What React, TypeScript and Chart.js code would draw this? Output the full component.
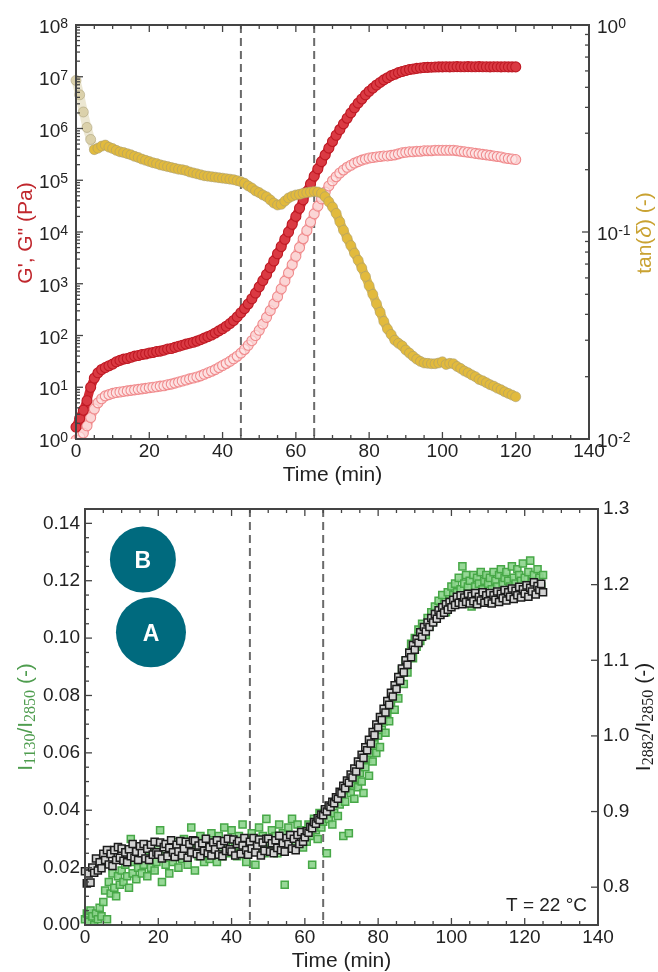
import { useEffect, useRef } from 'react';
import { Chart, registerables } from 'chart.js';

Chart.register(...registerables);

const SANS = '"Liberation Sans", Arial, Helvetica, sans-serif';
const SERIF = '"Liberation Serif", "Times New Roman", serif';
const AXIS_COLOR = '#444444';
const TEXT_COLOR = '#222222';

// ---------------- Rheology (top panel) ----------------
const rheoTime = [
  0, 1, 2, 3, 4, 5, 6, 7, 8, 9,
  10, 11, 12, 13, 14, 15, 16, 17, 18, 19,
  20, 21, 22, 23, 24, 25, 26, 27, 28, 29,
  30, 31, 32, 33, 34, 35, 36, 37, 38, 39,
  40, 41, 42, 43, 44, 45, 46, 47, 48, 49,
  50, 51, 52, 53, 54, 55, 56, 57, 58, 59,
  60, 61, 62, 63, 64, 65, 66, 67, 68, 69,
  70, 71, 72, 73, 74, 75, 76, 77, 78, 79,
  80, 81, 82, 83, 84, 85, 86, 87, 88, 89,
  90, 91, 92, 93, 94, 95, 96, 97, 98, 99,
  100, 101, 102, 103, 104, 105, 106, 107, 108, 109,
  110, 111, 112, 113, 114, 115, 116, 117, 118, 119,
  120,
];

// G' (Pa)
const storageModulus = [
  1.7, 2.5, 3.6, 5.5, 10, 15, 19, 22, 24, 26,
  28, 31, 33, 35, 36, 38, 40, 41, 43, 44,
  46, 47, 49, 50, 52, 55, 56, 59, 62, 65,
  68, 71, 74, 78, 83, 89, 95, 102, 112, 123,
  135, 151, 170, 195, 229, 275, 331, 407, 513, 661,
  871, 1150, 1510, 2040, 2750, 3800, 5250, 7240, 1.0e4, 1.41e4,
  2.0e4, 2.88e4, 4.17e4, 6.03e4, 8.51e4, 1.2e5, 1.66e5, 2.29e5, 3.09e5, 4.17e5,
  5.62e5, 7.41e5, 9.55e5, 1.23e6, 1.58e6, 2.0e6, 2.51e6, 3.09e6, 3.72e6, 4.47e6,
  5.25e6, 6.03e6, 6.92e6, 7.76e6, 8.71e6, 9.55e6, 1.05e7, 1.12e7, 1.2e7, 1.26e7,
  1.32e7, 1.38e7, 1.41e7, 1.45e7, 1.48e7, 1.51e7, 1.52e7, 1.53e7, 1.54e7, 1.55e7,
  1.55e7, 1.56e7, 1.55e7, 1.56e7, 1.57e7, 1.56e7, 1.56e7, 1.57e7, 1.56e7, 1.56e7,
  1.57e7, 1.56e7, 1.56e7, 1.55e7, 1.56e7, 1.56e7, 1.55e7, 1.56e7, 1.55e7, 1.55e7,
  1.55e7,
];

// G'' (Pa)
const lossModulus = [
  0.95, 1.1, 1.3, 1.8, 2.6, 3.8, 5.0, 6.0, 6.8, 7.2,
  7.6, 7.9, 8.1, 8.3, 8.5, 8.7, 8.9, 9.1, 9.3, 9.5,
  9.8, 10, 10.2, 10.5, 10.7, 11.2, 11.5, 12, 12.6, 13.2,
  13.8, 14.5, 15.1, 15.8, 16.6, 17.8, 19, 20.4, 21.9, 24,
  26.3, 28.8, 31.6, 35.5, 39.8, 45.7, 53.7, 64.6, 79.4, 100,
  126, 166, 224, 302, 407, 562, 794, 1122, 1622, 2344,
  3388, 5012, 7413, 1.07e4, 1.55e4, 2.24e4, 3.16e4, 4.37e4, 5.89e4, 7.76e4,
  9.77e4, 1.17e5, 1.38e5, 1.58e5, 1.78e5, 1.95e5, 2.14e5, 2.29e5, 2.45e5, 2.57e5,
  2.69e5, 2.75e5, 2.82e5, 2.88e5, 2.95e5, 2.95e5, 3.02e5, 3.09e5, 3.24e5, 3.39e5,
  3.47e5, 3.55e5, 3.55e5, 3.63e5, 3.63e5, 3.72e5, 3.72e5, 3.72e5, 3.8e5, 3.8e5,
  3.8e5, 3.8e5, 3.8e5, 3.8e5, 3.72e5, 3.63e5, 3.55e5, 3.47e5, 3.39e5, 3.31e5,
  3.24e5, 3.16e5, 3.09e5, 3.02e5, 2.95e5, 2.88e5, 2.82e5, 2.69e5, 2.63e5, 2.57e5,
  2.51e5,
];

// tan(delta) (-)
const tanDelta = [
  0.54, 0.46, 0.38, 0.32, 0.28, 0.25, 0.254, 0.26, 0.263, 0.257,
  0.253, 0.248, 0.244, 0.242, 0.239, 0.236, 0.232, 0.229, 0.225, 0.222,
  0.219, 0.216, 0.214, 0.211, 0.209, 0.207, 0.205, 0.203, 0.201, 0.2,
  0.198, 0.195, 0.193, 0.191, 0.189, 0.187, 0.186, 0.185, 0.184, 0.183,
  0.182, 0.181, 0.18, 0.179, 0.177, 0.175, 0.172, 0.167, 0.163, 0.158,
  0.155, 0.151, 0.148, 0.143, 0.138, 0.135, 0.136, 0.141, 0.146, 0.149,
  0.151, 0.152, 0.154, 0.155, 0.156, 0.157, 0.156, 0.154, 0.148, 0.14,
  0.132, 0.123, 0.112, 0.102, 0.093, 0.086, 0.079, 0.073, 0.067, 0.061,
  0.055, 0.05, 0.045, 0.041, 0.037, 0.034, 0.032, 0.03, 0.029, 0.0282,
  0.0269, 0.026, 0.0251, 0.0243, 0.0237, 0.0233, 0.0232, 0.0231, 0.0231, 0.0233,
  0.0236, 0.0229, 0.0232, 0.0231, 0.0224, 0.0219, 0.0213, 0.0209, 0.0204, 0.02,
  0.0194, 0.0191, 0.0187, 0.0183, 0.018, 0.0176, 0.0173, 0.0169, 0.0166, 0.0163,
  0.016,
];

// ---------------- Raman ratios (bottom panel) ----------------
const ramanTime = [
  0, 0.5, 1, 1.5, 2, 2.5, 3, 3.5, 4, 4.5,
  5, 5.5, 6, 6.5, 7, 7.5, 8, 8.5, 9, 9.5,
  10, 10.5, 11, 11.5, 12, 12.5, 13, 13.5, 14, 14.5,
  15, 15.5, 16, 16.5, 17, 17.5, 18, 18.5, 19, 19.5,
  20, 20.5, 21, 21.5, 22, 22.5, 23, 23.5, 24, 24.5,
  25, 25.5, 26, 26.5, 27, 27.5, 28, 28.5, 29, 29.5,
  30, 30.5, 31, 31.5, 32, 32.5, 33, 33.5, 34, 34.5,
  35, 35.5, 36, 36.5, 37, 37.5, 38, 38.5, 39, 39.5,
  40, 40.5, 41, 41.5, 42, 42.5, 43, 43.5, 44, 44.5,
  45, 45.5, 46, 46.5, 47, 47.5, 48, 48.5, 49, 49.5,
  50, 50.5, 51, 51.5, 52, 52.5, 53, 53.5, 54, 54.5,
  55, 55.5, 56, 56.5, 57, 57.5, 58, 58.5, 59, 59.5,
  60, 60.5, 61, 61.5, 62, 62.5, 63, 63.5, 64, 64.5,
  65, 65.5, 66, 66.5, 67, 67.5, 68, 68.5, 69, 69.5,
  70, 70.5, 71, 71.5, 72, 72.5, 73, 73.5, 74, 74.5,
  75, 75.5, 76, 76.5, 77, 77.5, 78, 78.5, 79, 79.5,
  80, 80.5, 81, 81.5, 82, 82.5, 83, 83.5, 84, 84.5,
  85, 85.5, 86, 86.5, 87, 87.5, 88, 88.5, 89, 89.5,
  90, 90.5, 91, 91.5, 92, 92.5, 93, 93.5, 94, 94.5,
  95, 95.5, 96, 96.5, 97, 97.5, 98, 98.5, 99, 99.5,
  100, 100.5, 101, 101.5, 102, 102.5, 103, 103.5, 104, 104.5,
  105, 105.5, 106, 106.5, 107, 107.5, 108, 108.5, 109, 109.5,
  110, 110.5, 111, 111.5, 112, 112.5, 113, 113.5, 114, 114.5,
  115, 115.5, 116, 116.5, 117, 117.5, 118, 118.5, 119, 119.5,
  120, 120.5, 121, 121.5, 122, 122.5, 123, 123.5, 124, 124.5,
  125,
];

// I1130 / I2850 (left axis, green)
const ratio1130 = [
  0.002, 0.004, 0.001, 0.005, 0.003, 0.000, 0.004, 0.002, 0.006, 0.003,
  0.008, 0.012, 0.002, 0.015, 0.011, 0.018, 0.013, 0.010, 0.017, 0.014,
  0.019, 0.015, 0.021, 0.017, 0.013, 0.030, 0.018, 0.022, 0.016, 0.020,
  0.024, 0.018, 0.021, 0.026, 0.017, 0.023, 0.020, 0.025, 0.019, 0.022,
  0.027, 0.033, 0.015, 0.024, 0.021, 0.028, 0.018, 0.025, 0.022, 0.029,
  0.024, 0.020, 0.027, 0.023, 0.030, 0.025, 0.021, 0.028, 0.034, 0.026,
  0.019, 0.029, 0.024, 0.031, 0.026, 0.022, 0.030, 0.027, 0.023, 0.032,
  0.025, 0.029, 0.022, 0.031, 0.027, 0.024, 0.034, 0.028, 0.025, 0.030,
  0.033, 0.026, 0.029, 0.024, 0.031, 0.027, 0.035, 0.028, 0.022, 0.030,
  0.026, 0.032, 0.028, 0.021, 0.030, 0.034, 0.027, 0.031, 0.025, 0.037,
  0.029, 0.026, 0.033, 0.028, 0.031, 0.025, 0.035, 0.029, 0.032, 0.014,
  0.030, 0.034, 0.027, 0.037, 0.031, 0.028, 0.035, 0.030, 0.033, 0.027,
  0.032, 0.029, 0.035, 0.031, 0.021, 0.037, 0.033, 0.030, 0.039, 0.034,
  0.036, 0.040, 0.025, 0.037, 0.041, 0.035, 0.039, 0.043, 0.038, 0.042,
  0.045, 0.031, 0.043, 0.047, 0.032, 0.046, 0.049, 0.044, 0.051, 0.048,
  0.053, 0.050, 0.046, 0.055, 0.058, 0.052, 0.060, 0.057, 0.063, 0.060,
  0.066, 0.062, 0.068, 0.071, 0.067, 0.074, 0.071, 0.077, 0.080, 0.075,
  0.083, 0.079, 0.086, 0.089, 0.084, 0.092, 0.088, 0.095, 0.098, 0.093,
  0.100, 0.097, 0.103, 0.099, 0.105, 0.102, 0.101, 0.107, 0.104, 0.109,
  0.106, 0.111, 0.108, 0.113, 0.110, 0.115, 0.112, 0.109, 0.116, 0.113,
  0.118, 0.115, 0.119, 0.116, 0.121, 0.117, 0.125, 0.119, 0.122, 0.118,
  0.120, 0.111, 0.122, 0.118, 0.121, 0.119, 0.123, 0.117, 0.120, 0.122,
  0.119, 0.121, 0.117, 0.123, 0.120, 0.118, 0.122, 0.124, 0.119, 0.121,
  0.123, 0.120, 0.118, 0.125, 0.121, 0.119, 0.124, 0.122, 0.120, 0.126,
  0.121, 0.118, 0.123, 0.127, 0.120, 0.122, 0.119, 0.124, 0.121, 0.118,
  0.122,
];

// I2882 / I2850 (right axis, black)
const ratio2882 = [
  0.821, 0.805, 0.818, 0.806, 0.826, 0.819, 0.838, 0.822, 0.833, 0.825,
  0.844, 0.836, 0.849, 0.830, 0.844, 0.828, 0.849, 0.836, 0.853, 0.839,
  0.851, 0.835, 0.846, 0.833, 0.850, 0.841, 0.857, 0.839, 0.847, 0.836,
  0.854, 0.845, 0.857, 0.838, 0.851, 0.836, 0.856, 0.843, 0.860, 0.846,
  0.843, 0.859, 0.838, 0.853, 0.857, 0.841, 0.852, 0.862, 0.846, 0.840,
  0.856, 0.847, 0.861, 0.842, 0.851, 0.860, 0.839, 0.857, 0.846, 0.862,
  0.861, 0.844, 0.855, 0.841, 0.858, 0.848, 0.864, 0.845, 0.853, 0.842,
  0.859, 0.850, 0.862, 0.843, 0.856, 0.841, 0.861, 0.848, 0.864, 0.850,
  0.847, 0.863, 0.842, 0.857, 0.861, 0.844, 0.855, 0.865, 0.849, 0.843,
  0.860, 0.851, 0.865, 0.846, 0.855, 0.863, 0.842, 0.859, 0.848, 0.864,
  0.864, 0.847, 0.858, 0.845, 0.862, 0.852, 0.868, 0.849, 0.858, 0.847,
  0.865, 0.857, 0.869, 0.851, 0.864, 0.849, 0.869, 0.857, 0.873, 0.860,
  0.866, 0.874, 0.872, 0.880, 0.878, 0.886, 0.884, 0.891, 0.889, 0.896,
  0.895, 0.903, 0.900, 0.908, 0.906, 0.913, 0.911, 0.919, 0.917, 0.926,
  0.924, 0.934, 0.931, 0.941, 0.938, 0.949, 0.945, 0.957, 0.953, 0.966,
  0.962, 0.975, 0.971, 0.985, 0.981, 0.995, 0.990, 1.005, 1.001, 1.015,
  1.011, 1.025, 1.021, 1.036, 1.031, 1.046, 1.041, 1.057, 1.052, 1.067,
  1.062, 1.078, 1.073, 1.089, 1.084, 1.100, 1.094, 1.110, 1.104, 1.120,
  1.114, 1.128, 1.123, 1.137, 1.131, 1.144, 1.138, 1.150, 1.144, 1.156,
  1.150, 1.161, 1.155, 1.166, 1.160, 1.170, 1.163, 1.174, 1.167, 1.177,
  1.170, 1.180, 1.173, 1.184, 1.176, 1.186, 1.174, 1.183, 1.177, 1.188,
  1.175, 1.185, 1.178, 1.189, 1.174, 1.184, 1.179, 1.190, 1.176, 1.186,
  1.178, 1.189, 1.175, 1.186, 1.180, 1.191, 1.177, 1.188, 1.182, 1.193,
  1.179, 1.190, 1.184, 1.195, 1.181, 1.192, 1.186, 1.197, 1.183, 1.194,
  1.188, 1.199, 1.184, 1.196, 1.191, 1.203, 1.187, 1.198, 1.193, 1.201,
  1.190,
];

// ---------------- Axes / annotations ----------------
const timeTicks = [0, 20, 40, 60, 80, 100, 120, 140];
const modulusExponents = [0, 1, 2, 3, 4, 5, 6, 7, 8];
const tanExponents = [-2, -1, 0];
const ratio1130Ticks = [0, 0.02, 0.04, 0.06, 0.08, 0.1, 0.12, 0.14];
const ratio2882Ticks = [0.8, 0.9, 1.0, 1.1, 1.2, 1.3];
const transitionTimes = [45, 65];
const badgeLabels = ['B', 'A'];
const badgeX = [15.8, 18.0];
const badgeY = [0.1274, 0.102];
const badgeRadius = [33, 35];

type Seg = { text: string; font: string; dy?: number };

function strokeLine(ctx: CanvasRenderingContext2D, x1: number, y1: number, x2: number, y2: number) {
  ctx.beginPath();
  ctx.moveTo(x1, y1);
  ctx.lineTo(x2, y2);
  ctx.stroke();
}

function drawRotated(ctx: CanvasRenderingContext2D, cx: number, cy: number, segs: Seg[], color: string, base: number) {
  ctx.save();
  ctx.translate(cx, cy);
  ctx.rotate(-Math.PI / 2);
  ctx.textAlign = 'left';
  ctx.textBaseline = 'alphabetic';
  ctx.fillStyle = color;
  let total = 0;
  for (const s of segs) {
    ctx.font = s.font;
    total += ctx.measureText(s.text).width;
  }
  let x = -total / 2;
  for (const s of segs) {
    ctx.font = s.font;
    ctx.fillText(s.text, x, base + (s.dy || 0));
    x += ctx.measureText(s.text).width;
  }
  ctx.restore();
}

function drawDashed(chart: any) {
  const ctx = chart.ctx as CanvasRenderingContext2D;
  const a = chart.chartArea;
  const xs = chart.scales.x;
  ctx.save();
  ctx.strokeStyle = '#6a6a6a';
  ctx.lineWidth = 2;
  ctx.setLineDash([8, 5]);
  for (const t of transitionTimes) {
    const p = xs.getPixelForValue(t);
    strokeLine(ctx, p, a.top, p, a.bottom);
  }
  ctx.restore();
}

function drawFrameAndX(chart: any) {
  const ctx = chart.ctx as CanvasRenderingContext2D;
  const a = chart.chartArea;
  const xs = chart.scales.x;
  ctx.save();
  ctx.strokeStyle = AXIS_COLOR;
  ctx.lineWidth = 2;
  ctx.strokeRect(a.left, a.top, a.right - a.left, a.bottom - a.top);
  ctx.lineWidth = 1.3;
  for (let v = 0; v <= 140; v += 5) {
    const len = v % 20 === 0 ? 7 : 4;
    const p = xs.getPixelForValue(v);
    strokeLine(ctx, p, a.bottom, p, a.bottom - len);
    strokeLine(ctx, p, a.top, p, a.top + len);
  }
  ctx.fillStyle = TEXT_COLOR;
  ctx.font = `19px ${SANS}`;
  ctx.textAlign = 'center';
  ctx.textBaseline = 'middle';
  for (const v of timeTicks) ctx.fillText(String(v), xs.getPixelForValue(v), a.bottom + 13);
  ctx.font = `21px ${SANS}`;
  ctx.fillText('Time (min)', (a.left + a.right) / 2, a.bottom + 36);
  ctx.restore();
}

function drawLogY(chart: any, scaleId: string, side: 'left' | 'right', exps: number[], gap: number) {
  const ctx = chart.ctx as CanvasRenderingContext2D;
  const a = chart.chartArea;
  const sc = chart.scales[scaleId];
  const x0 = side === 'left' ? a.left : a.right;
  const dir = side === 'left' ? 1 : -1;
  ctx.save();
  ctx.strokeStyle = AXIS_COLOR;
  ctx.lineWidth = 1.3;
  for (let i = 0; i < exps.length; i++) {
    const e = exps[i];
    const p = sc.getPixelForValue(Math.pow(10, e));
    strokeLine(ctx, x0, p, x0 + dir * 7, p);
    if (i < exps.length - 1) {
      for (let m = 2; m <= 9; m++) {
        const q = sc.getPixelForValue(m * Math.pow(10, e));
        strokeLine(ctx, x0, q, x0 + dir * 4, q);
      }
    }
  }
  ctx.fillStyle = TEXT_COLOR;
  ctx.textBaseline = 'alphabetic';
  ctx.textAlign = 'left';
  for (const e of exps) {
    const p = sc.getPixelForValue(Math.pow(10, e));
    ctx.font = `19px ${SANS}`;
    const w1 = ctx.measureText('10').width;
    ctx.font = `14px ${SANS}`;
    const w2 = ctx.measureText(String(e)).width;
    const start = side === 'left' ? x0 - gap - w1 - w2 : x0 + gap;
    ctx.font = `19px ${SANS}`;
    ctx.fillText('10', start, p + 8);
    ctx.font = `14px ${SANS}`;
    ctx.fillText(String(e), start + w1, p + 3);
  }
  ctx.restore();
}

function drawLinY(chart: any, scaleId: string, side: 'left' | 'right', majors: number[], minors: number[], decimals: number, gap: number) {
  const ctx = chart.ctx as CanvasRenderingContext2D;
  const a = chart.chartArea;
  const sc = chart.scales[scaleId];
  const x0 = side === 'left' ? a.left : a.right;
  const dir = side === 'left' ? 1 : -1;
  ctx.save();
  ctx.strokeStyle = AXIS_COLOR;
  ctx.lineWidth = 1.3;
  for (const v of minors) {
    const q = sc.getPixelForValue(v);
    strokeLine(ctx, x0, q, x0 + dir * 4, q);
  }
  for (const v of majors) {
    const p = sc.getPixelForValue(v);
    strokeLine(ctx, x0, p, x0 + dir * 7, p);
  }
  ctx.fillStyle = TEXT_COLOR;
  ctx.font = `19px ${SANS}`;
  ctx.textBaseline = 'middle';
  ctx.textAlign = side === 'left' ? 'right' : 'left';
  for (const v of majors) {
    ctx.fillText(v.toFixed(decimals), x0 - dir * gap, sc.getPixelForValue(v));
  }
  ctx.restore();
}

const topPlugin = {
  id: 'topDecor',
  beforeDatasetsDraw(chart: any) {
    drawDashed(chart);
  },
  afterDatasetsDraw(chart: any) {
    const ctx = chart.ctx as CanvasRenderingContext2D;
    const a = chart.chartArea;
    drawFrameAndX(chart);
    drawLogY(chart, 'yG', 'left', modulusExponents, 8);
    drawLogY(chart, 'yTan', 'right', tanExponents, 8);
    const cy = (a.top + a.bottom) / 2;
    drawRotated(ctx, 24, cy + 1, [{ text: 'G\', G" (Pa)', font: `21px ${SANS}` }], '#c0272d', 7.6);
    drawRotated(
      ctx,
      643,
      cy + 1,
      [
        { text: 'tan(', font: `21px ${SANS}` },
        { text: 'δ', font: `italic 21px ${SANS}` },
        { text: ') (-)', font: `21px ${SANS}` },
      ],
      '#c9a232',
      7.6,
    );
  },
};

const bottomPlugin = {
  id: 'bottomDecor',
  beforeDatasetsDraw(chart: any) {
    drawDashed(chart);
  },
  afterDatasetsDraw(chart: any) {
    const ctx = chart.ctx as CanvasRenderingContext2D;
    const a = chart.chartArea;
    drawFrameAndX(chart);
    const minors: number[] = [];
    for (let k = 1; k <= 29; k++) if (k % 4 !== 0) minors.push(k * 0.005);
    drawLinY(chart, 'yL', 'left', ratio1130Ticks, minors, 2, 5);
    drawLinY(chart, 'yR', 'right', ratio2882Ticks, [], 1, 5);
    const cy = (a.top + a.bottom) / 2;
    const sub = `16px ${SERIF}`;
    const main = `21px ${SANS}`;
    drawRotated(
      ctx,
      24.5,
      cy,
      [
        { text: 'I', font: main },
        { text: '1130', font: sub, dy: 3 },
        { text: '/I', font: main },
        { text: '2850', font: sub, dy: 3 },
        { text: ' (-)', font: main },
      ],
      '#4f9d4f',
      7.6,
    );
    drawRotated(
      ctx,
      642.5,
      cy,
      [
        { text: 'I', font: main },
        { text: '2882', font: sub, dy: 3 },
        { text: '/I', font: main },
        { text: '2850', font: sub, dy: 3 },
        { text: ' (-)', font: main },
      ],
      '#1e1e1e',
      7.6,
    );
    const xs = chart.scales.x;
    const yl = chart.scales.yL;
    ctx.save();
    for (let i = 0; i < badgeLabels.length; i++) {
      const px = xs.getPixelForValue(badgeX[i]);
      const py = yl.getPixelForValue(badgeY[i]);
      ctx.fillStyle = '#006a7e';
      ctx.beginPath();
      ctx.arc(px, py, badgeRadius[i], 0, Math.PI * 2);
      ctx.fill();
      ctx.fillStyle = '#ffffff';
      ctx.font = `bold 23px ${SANS}`;
      ctx.textAlign = 'center';
      ctx.textBaseline = 'alphabetic';
      ctx.fillText(badgeLabels[i], px, py + 8.5);
    }
    ctx.fillStyle = TEXT_COLOR;
    ctx.font = `19px ${SANS}`;
    ctx.textAlign = 'right';
    ctx.textBaseline = 'alphabetic';
    ctx.fillText('T = 22 °C', a.right - 11, a.bottom - 14.5);
    ctx.restore();
  },
};

function hiddenScale(extra: any) {
  return {
    grid: { display: false },
    border: { display: false },
    ticks: { display: false },
    title: { display: false },
    ...extra,
  };
}

export default function App() {
  const topRef = useRef<HTMLCanvasElement | null>(null);
  const botRef = useRef<HTMLCanvasElement | null>(null);

  useEffect(() => {
    if (!topRef.current || !botRef.current) return;
    const topChart = new Chart(topRef.current, {
      type: 'scatter',
      data: {
        datasets: [
          {
            label: 'tan(δ)',
            data: rheoTime.map((t, i) => ({ x: t, y: tanDelta[i] })),
            yAxisID: 'yTan',
            showLine: true,
            borderColor: 'rgba(222,184,70,0.95)',
            borderWidth: 9,
            borderCapStyle: 'round',
            borderJoinStyle: 'round',
            segment: {
              borderColor: (c: any) => (c.p0DataIndex < 5 ? 'rgba(200,185,125,0.35)' : undefined),
            },
            pointRadius: 5,
            pointBackgroundColor: (c: any) => (c.dataIndex < 5 ? 'rgba(200,185,125,0.45)' : 'rgba(226,186,60,0.9)'),
            pointBorderColor: 'rgba(165,155,115,0.55)',
            pointBorderWidth: 1,
          },
          {
            label: "G'",
            data: rheoTime.map((t, i) => ({ x: t, y: storageModulus[i] })),
            yAxisID: 'yG',
            showLine: true,
            borderColor: '#d22a33',
            borderWidth: 9,
            borderCapStyle: 'round',
            borderJoinStyle: 'round',
            pointRadius: 5,
            pointBackgroundColor: '#da3a43',
            pointBorderColor: '#bf1a24',
            pointBorderWidth: 1.1,
          },
          {
            label: "G''",
            data: rheoTime.map((t, i) => ({ x: t, y: lossModulus[i] })),
            yAxisID: 'yG',
            showLine: true,
            borderColor: '#f6b3b3',
            borderWidth: 9,
            borderCapStyle: 'round',
            borderJoinStyle: 'round',
            pointRadius: 5,
            pointBackgroundColor: 'rgba(255,240,240,0.55)',
            pointBorderColor: '#f08a8c',
            pointBorderWidth: 1.1,
          },
        ],
      },
      options: {
        responsive: false,
        animation: false,
        events: [],
        devicePixelRatio: 1,
        clip: { left: 6, top: 6, right: 6, bottom: 0 },
        layout: { padding: { top: 25, left: 0, right: 0, bottom: 0 } },
        plugins: { legend: { display: false }, tooltip: { enabled: false } },
        scales: {
          x: hiddenScale({ type: 'linear', position: 'bottom', min: 0, max: 140, afterFit: (s: any) => { s.height = 47; } }),
          yG: hiddenScale({ type: 'logarithmic', position: 'left', min: 1, max: 1e8, afterFit: (s: any) => { s.width = 76; } }),
          yTan: hiddenScale({ type: 'logarithmic', position: 'right', min: 0.01, max: 1, afterFit: (s: any) => { s.width = 69; } }),
        },
      } as any,
      plugins: [topPlugin],
    });

    const botChart = new Chart(botRef.current, {
      type: 'scatter',
      data: {
        datasets: [
          {
            label: 'I2882/I2850',
            data: ramanTime.map((t, i) => ({ x: t, y: ratio2882[i] })),
            yAxisID: 'yR',
            pointStyle: 'rect',
            pointRadius: 5,
            backgroundColor: '#d2d2d2',
            borderColor: '#1c1c1c',
            borderWidth: 1.5,
          },
          {
            label: 'I1130/I2850',
            data: ramanTime.map((t, i) => ({ x: t, y: ratio1130[i] })),
            yAxisID: 'yL',
            pointStyle: 'rect',
            pointRadius: 5,
            backgroundColor: 'rgba(140,212,140,0.9)',
            borderColor: '#47a847',
            borderWidth: 1.5,
          },
        ],
      },
      options: {
        responsive: false,
        animation: false,
        events: [],
        devicePixelRatio: 1,
        clip: { left: 6, top: 6, right: 6, bottom: 0 },
        layout: { padding: { top: 23, left: 0, right: 0, bottom: 0 } },
        plugins: { legend: { display: false }, tooltip: { enabled: false } },
        scales: {
          x: hiddenScale({ type: 'linear', position: 'bottom', min: 0, max: 140, afterFit: (s: any) => { s.height = 47; } }),
          yL: hiddenScale({ type: 'linear', position: 'left', min: 0, max: 0.145, afterFit: (s: any) => { s.width = 85; } }),
          yR: hiddenScale({ type: 'linear', position: 'right', min: 0.75, max: 1.3, afterFit: (s: any) => { s.width = 60; } }),
        },
      } as any,
      plugins: [bottomPlugin],
    });

    return () => {
      topChart.destroy();
      botChart.destroy();
    };
  }, []);

  return (
    <div style={{ position: 'absolute', left: 0, top: 0, width: 658, height: 972, background: '#ffffff' }}>
      <canvas ref={topRef} width={658} height={486} style={{ position: 'absolute', left: 0, top: 0, display: 'block' }} />
      <canvas ref={botRef} width={658} height={486} style={{ position: 'absolute', left: 0, top: 486, display: 'block' }} />
    </div>
  );
}
